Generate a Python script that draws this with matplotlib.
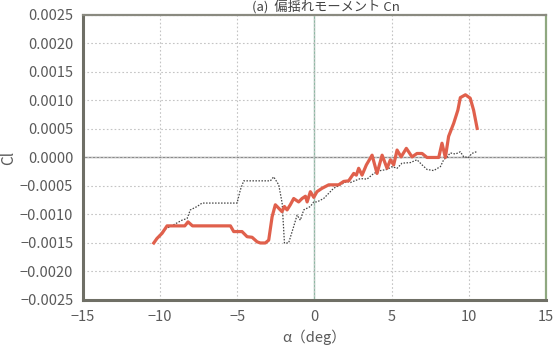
import matplotlib
matplotlib.use("Agg")
import matplotlib.pyplot as plt

plt.rcParams['font.family'] = ['Noto Sans CJK JP', 'DejaVu Sans']

# Measured rolling-moment coefficient (solid) and reference run (dotted)
alpha_a = [-10.41, -10.2, -9.87, -9.55, -8.4, -8.19, -7.9, -5.44, -5.23, -4.69,
           -4.36, -4.04, -3.71, -3.5, -3.18, -2.96, -2.74, -2.53, -2.42, -2.1,
           -1.94, -1.77, -1.56, -1.34, -1.02, -0.8, -0.58, -0.47, -0.26, -0.04,
           0.17, 0.5, 0.93, 1.57, 1.9, 2.22, 2.55, 2.72, 2.87, 3.09,
           3.37, 3.74, 4.06, 4.39, 4.71, 4.93, 5.14, 5.36, 5.62, 5.96,
           6.33, 6.65, 6.98, 7.3, 8.06, 8.27, 8.49, 8.7, 9.03, 9.3,
           9.46, 9.79, 10.1, 10.32, 10.55]
cl_a = [-0.0015, -0.00142, -0.00133, -0.0012, -0.0012, -0.00113, -0.0012, -0.0012, -0.0013, -0.0013,
        -0.00139, -0.0014, -0.00148, -0.0015, -0.0015, -0.00145, -0.00104, -0.00083, -0.00086, -0.00095,
        -0.00086, -0.00092, -0.00083, -0.00072, -0.00078, -0.00072, -0.00068, -0.00078, -0.0006, -0.0007,
        -0.0006, -0.00054, -0.00048, -0.00048, -0.00042, -0.00041, -0.00028, -0.00031, -0.00019, -0.00031,
        -0.00013, 0.00004, -0.00028, 0.00004, -0.00019, -0.00004, -0.00013, 0.00013, 0.00001, 0.00016,
        0.00001, 0.00007, 0.00007, 0.0, 0.0, 0.00025, 0.0, 0.00037, 0.0006, 0.00083,
        0.00105, 0.0011, 0.00104, 0.00083, 0.00051]

alpha_b = [-10.3, -9.77, -9.12, -8.58, -8.25, -8.04, -7.6, -7.28, -6.85, -5.01,
           -4.8, -4.58, -2.85, -2.64, -2.31, -2.09, -1.94, -1.67, -1.34, -1.12,
           -0.91, -0.69, -0.26, -0.04, 0.17, 0.6, 1.25, 1.68, 2.12, 2.33,
           2.98, 3.41, 3.85, 4.28, 4.71, 5.04, 5.36, 5.68, 6.22, 6.65,
           6.98, 7.3, 7.73, 8.17, 8.38, 8.6, 8.81, 9.14, 9.46, 9.68,
           10.0, 10.2, 10.5]
cl_b = [-0.00145, -0.00127, -0.00118, -0.0011, -0.00107, -0.00092, -0.00086, -0.0008, -0.0008, -0.0008,
        -0.00057, -0.00041, -0.00041, -0.00034, -0.00048, -0.0008, -0.0015, -0.0015, -0.00121, -0.00101,
        -0.0011, -0.00092, -0.00086, -0.00078, -0.00078, -0.00072, -0.00054, -0.00048, -0.00042, -0.00044,
        -0.00037, -0.00038, -0.00028, -0.00023, -0.00021, -0.00016, -0.00019, -0.0001, -0.00009, -0.00004,
        -0.00013, -0.00021, -0.00023, -0.00016, -0.00004, 0.00001, 0.00008, 0.00006, 0.0001, 0.00001,
        0.0, 0.00007, 0.0001]

x_ticks = [-15, -10, -5, 0, 5, 10, 15]
y_ticks = [-0.0025, -0.0020, -0.0015, -0.0010, -0.0005, 0.0, 0.0005, 0.0010, 0.0015, 0.0020, 0.0025]

fig = plt.figure(figsize=(5.53, 3.48), dpi=100)
ax = fig.add_axes([0.150, 0.138, 0.837, 0.819])

ax.set_xlim(-15, 15)
ax.set_ylim(-0.0025, 0.0025)
ax.set_xticks(x_ticks)
ax.set_yticks(y_ticks)
ax.set_xticklabels([f"{t:d}".replace("-", "\u2212") for t in x_ticks])
ax.set_yticklabels([f"{t:.4f}".replace("-", "\u2212") for t in y_ticks])
ax.tick_params(length=0, labelsize=10.5, labelcolor='#5a5a5a')
ax.tick_params(axis='y', pad=7)
ax.tick_params(axis='x', pad=7)

ax.grid(True, linestyle=(0, (1.5, 2.0)), color='#c4c4c4', linewidth=0.8)
ax.axhline(0, color='#8a8a8a', linewidth=1.0, zorder=1)
ax.axvline(0, color='#8fb8a4', linewidth=1.0, zorder=1)

ax.plot(alpha_b, cl_b, color='#444444', linestyle=(0, (1.2, 1.2)), linewidth=0.9, zorder=3)
ax.plot(alpha_a, cl_a, color='#e0604c', linewidth=2.3, zorder=4, solid_joinstyle='round')

for side in ('left', 'bottom'):
    ax.spines[side].set_color('#6f6f66')
    ax.spines[side].set_linewidth(2.2)
ax.spines['top'].set_color('#8a8a80')
ax.spines['top'].set_linewidth(1.6)
ax.spines['right'].set_color('#8fa880')
ax.spines['right'].set_linewidth(1.6)

ax.set_ylabel("Cl", fontsize=11, color='#5a5a5a')
ax.yaxis.set_label_coords(-0.143, 0.5)
ax.set_xlabel("\u03b1\uff08deg\uff09", fontsize=10.5, color='#5a5a5a')
ax.xaxis.set_label_coords(0.5, -0.105)

fig.text(0.59, 0.978, "(a)  偏揺れモーメント Cn", ha='center', va='center',
         fontsize=9.5, color='#444444')

fig.savefig("out.png", dpi=100)
